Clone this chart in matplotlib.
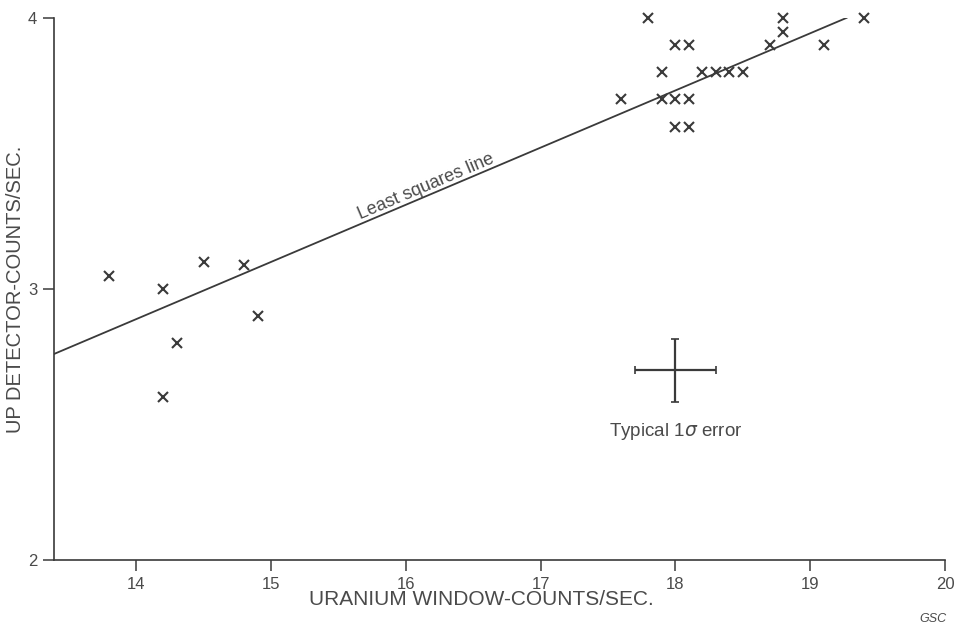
import matplotlib.pyplot as plt
import numpy as np

# uranium window count rate vs up-detector count rate (counts/sec)
uranium_window = [13.8, 14.2, 14.3, 14.2, 14.5, 14.8, 14.9,
                  17.8, 18.0, 18.1, 17.9, 18.2, 18.3, 18.4, 18.5,
                  17.6, 17.9, 18.0, 18.1, 18.0, 18.1,
                  18.7, 18.8, 18.8, 19.1, 19.4]
up_detector = [3.05, 3.0, 2.8, 2.6, 3.1, 3.09, 2.9,
               4.0, 3.9, 3.9, 3.8, 3.8, 3.8, 3.8, 3.8,
               3.7, 3.7, 3.7, 3.7, 3.6, 3.6,
               3.9, 4.0, 3.95, 3.9, 4.0]

# least squares line as drawn
fit_slope = 0.211
fit_intercept = -0.065
fit_range = [13.39, 19.27]

# typical 1 sigma error
err_center = (18.0, 2.7)
err_x = 0.3
err_y = 0.115

x_ticks = [14, 15, 16, 17, 18, 19, 20]
y_ticks = [2, 3, 4]

ink = "#3a3a3a"
text_ink = "#4a4a4a"
plt.rcParams["font.family"] = ["Liberation Sans", "DejaVu Sans"]

fig = plt.figure(figsize=(9.55, 6.25), dpi=100)
ax = fig.add_axes([0.0565, 0.104, 0.933, 0.867])

ax.plot(uranium_window, up_detector, ls="none", marker="x", ms=7, mew=1.5,
        color=ink, clip_on=False)

fx = np.array(fit_range)
ax.plot(fx, fit_slope * fx + fit_intercept, color=ink, lw=1.3)
ax.text(16.15, 3.378, "Least squares line", color=text_ink, fontsize=13,
        ha="center", va="center", rotation=22.9, rotation_mode="anchor")

ax.errorbar([err_center[0]], [err_center[1]], xerr=err_x, yerr=err_y,
            color=ink, lw=1.6, capsize=3, capthick=1.2)
ax.text(err_center[0], 2.476, "Typical 1$\\sigma$ error", color=text_ink,
        fontsize=13.5, ha="center", va="center")

ax.set_xlim(13.39, 20)
ax.set_ylim(2, 4)
ax.set_xticks(x_ticks)
ax.set_yticks(y_ticks)
for side in ["top", "right"]:
    ax.spines[side].set_visible(False)
for side in ["left", "bottom"]:
    ax.spines[side].set_color(ink)
    ax.spines[side].set_linewidth(1.2)
ax.tick_params(colors=ink, labelcolor=text_ink, labelsize=12, length=8,
               width=1.1, pad=4)

ax.set_xlabel("URANIUM WINDOW-COUNTS/SEC.", fontsize=15, color=text_ink)
ax.xaxis.set_label_coords(0.48, -0.055)
ax.set_ylabel("UP DETECTOR-COUNTS/SEC.", fontsize=14.5, color=text_ink)
ax.yaxis.set_label_coords(-0.0325, 0.5)

fig.text(0.977, 0.005, "GSC", fontsize=9, style="italic", color=text_ink,
         ha="center")

fig.savefig("out.png", dpi=100)
